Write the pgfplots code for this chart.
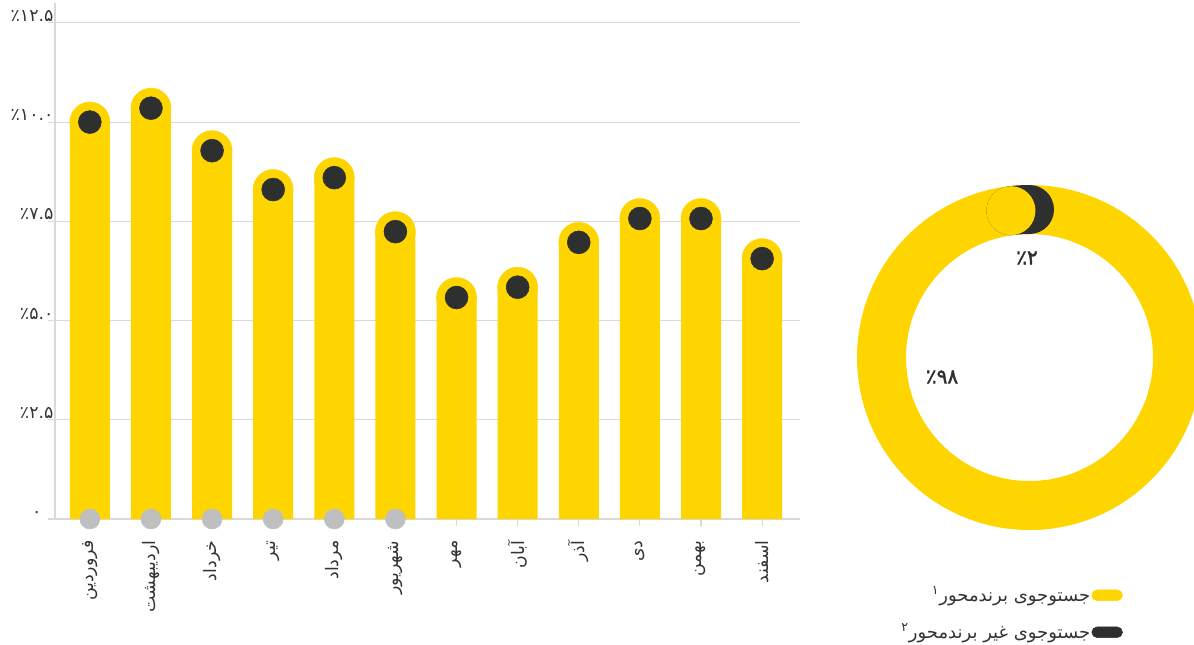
\documentclass[border=0pt]{standalone}
\usepackage{pgfplots}
\pgfplotsset{compat=1.18}
\usepackage{pgfplotstable}
\usepackage{fontspec}
\setmainfont{DejaVu Sans}
\newfontfamily\fa[Script=Arabic]{DejaVu Sans}
\newfontfamily\fab[Script=Arabic,FakeBold=2]{DejaVu Sans}
\TeXXeTstate=1

\definecolor{yel}{HTML}{FFD500}
\definecolor{drk}{HTML}{2E3030}
\definecolor{gry}{HTML}{BFBFBF}
\definecolor{gridc}{HTML}{D9D9D9}
\definecolor{txt}{HTML}{333333}

\pgfplotstableread{
x val
0 10.00
1 10.35
2 9.28
3 8.30
4 8.60
5 7.24
6 5.58
7 5.84
8 6.97
9 7.57
10 7.57
11 6.56
}\bars

\pgfplotstableread{
x val
0 0
1 0
2 0
3 0
4 0
5 0
}\base

\pgfplotstableread{
seg val
0 98
1 2
}\donut

\begin{document}
\begin{tikzpicture}
\useasboundingbox (0,0) rectangle (895.5pt,483pt);
\begin{axis}[
  at={(41.25pt,93.75pt)}, anchor=south west,
  scale only axis, width=558.75pt, height=387pt,
  xmin=-0.57, xmax=11.62, ymin=0, ymax=13,
  axis lines=left, axis line style={draw=gridc, -, line width=0.8pt},
  clip=false,
  ymajorgrids, grid style={draw=gridc, line width=0.8pt},
  tick align=outside, major tick length=5pt,
  tick style={draw=gridc, line width=0.8pt},
  ytick={0,2.5,5,7.5,10,12.5},
  yticklabels={{\fa ۰\kern9pt},{\fa ٪۲.۵},{\fa ٪۵.۰},{\fa ٪۷.۵},{\fa ٪۱۰.۰},{\fa ٪۱۲.۵}},
  yticklabel style={anchor=base east, inner sep=0pt, xshift=4pt, yshift=1pt},
  xtick={0,...,11},
  xticklabels={{\fa\beginR فروردین\endR},{\fa\beginR اردیبهشت\endR},{\fa\beginR خرداد\endR},{\fa\beginR تیر\endR},{\fa\beginR مرداد\endR},{\fa\beginR شهریور\endR},{\fa\beginR مهر\endR},{\fa\beginR آبان\endR},{\fa\beginR آذر\endR},{\fa\beginR دی\endR},{\fa\beginR بهمن\endR},{\fa\beginR اسفند\endR}},
  xticklabel style={rotate=90, anchor=east, inner sep=0pt},
  xticklabel shift=11pt,
  tick label style={font=\fontsize{13}{15}\selectfont, text=txt},
]
\addplot[ybar, bar width=30pt, fill=yel, draw=none] table[x=x,y=val]{\bars};
\addplot[only marks, mark=*, mark size=15pt, color=yel] table[x=x,y=val]{\bars};
\addplot[only marks, mark=*, mark size=8.6pt, color=drk] table[x=x,y=val]{\bars};
\addplot[only marks, mark=*, mark size=7.5pt, color=gry] table[x=x,y=val]{\base};
\end{axis}

\pgfplotstablegetelem{1}{val}\of\donut
\pgfmathsetmacro{\ang}{90+3.6*\pgfplotsretval}
\begin{axis}[
  at={(772.125pt,214.875pt)}, anchor=center,
  scale only axis, width=258.75pt, height=258.75pt,
  xmin=-1, xmax=1, ymin=-1, ymax=1,
  hide axis, clip=false,
  legend plot pos=right, legend cell align=right,
  legend style={at={(axis description cs:0.771,-0.16)}, anchor=north east,
    draw=none, fill=none, font=\fontsize{13.5}{15}\selectfont\fa, text=txt,
    row sep=13pt, inner sep=0pt, nodes={inner sep=1pt}},
]
\draw[yel, line width=36.75pt] (axis cs:0,0) circle[radius=111pt];
\draw[drk, line width=36.75pt, line cap=round] (axis cs:0,0) ++(\ang:111pt) arc[start angle=\ang, end angle=90, radius=111pt];
\fill[yel] (axis cs:0,0) ++(\ang:111pt) circle[radius=18.375pt];
\node[text=drk, font=\fontsize{15}{17}\selectfont\fab] at (axis cs:-0.0145,0.577) {٪۲};
\node[text=drk, font=\fontsize{15}{17}\selectfont\fab] at (axis cs:-0.507,-0.113) {٪۹۸};
\addlegendimage{legend image code/.code={\fill[yel, rounded corners=4pt] (0pt,-4pt) rectangle (23pt,4pt);}}
\addlegendentry{\beginR جستوجوی برندمحور\textsuperscript{۱}\endR}
\addlegendimage{legend image code/.code={\fill[drk, rounded corners=4pt] (0pt,-4pt) rectangle (23pt,4pt);}}
\addlegendentry{\beginR جستوجوی غیر برندمحور\textsuperscript{۲}\endR}
\end{axis}
\end{tikzpicture}
\end{document}
